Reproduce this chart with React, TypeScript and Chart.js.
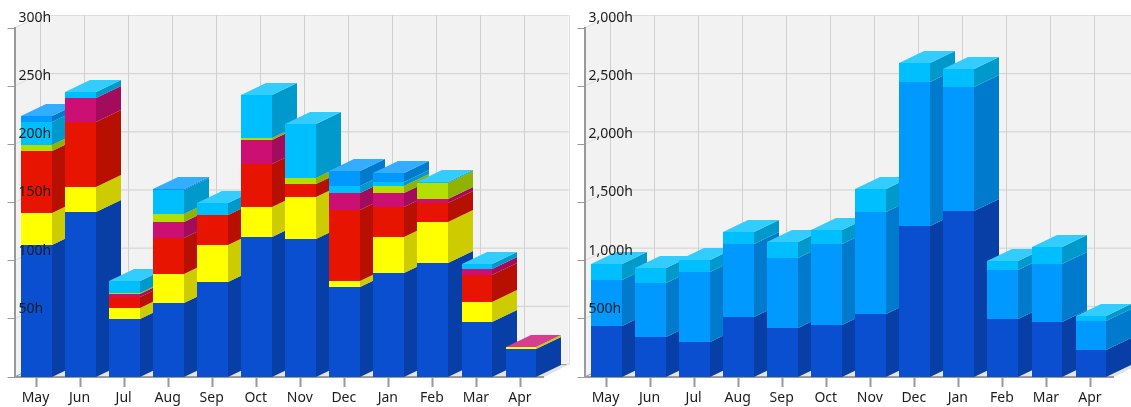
import { useEffect, useRef } from "react";
import { Chart, registerables } from "chart.js";

Chart.register(...registerables);

const months = ["May", "Jun", "Jul", "Aug", "Sep", "Oct", "Nov", "Dec", "Jan", "Feb", "Mar", "Apr"];

// left chart
const leftBlue = [113.5, 142, 49.6, 63.3, 81.4, 120, 118.4, 77.4, 89.4, 98.3, 47.3, 23.8];
const leftYellow = [27.8, 21.5, 9.7, 25.5, 32, 25.8, 36.6, 4.9, 31.2, 34.7, 17.5, 1.7];
const leftRed = [53.1, 55.7, 9.7, 30.4, 25.8, 37.5, 11, 61.3, 25.3, 16.8, 22.7, 0];
const leftMagenta = [0, 20.6, 2.5, 13.8, 0, 20.6, 0, 14.9, 12.3, 2.9, 5.7, 0.3];
const leftLime = [4.9, 0, 1, 7.4, 0, 1.2, 5.4, 0, 6, 14.3, 0, 0];
const leftCyan = [20.3, 5.5, 9.7, 20, 10.6, 37.2, 46.4, 6, 3.7, 0.5, 4.3, 0];
const leftAzure = [4.6, 0, 0, 1.3, 0, 0, 0, 12.9, 7.7, 0, 0, 0];

// right chart
const rightBlue = [438, 344, 301, 513, 424, 450, 542, 1300, 1424, 496, 475, 230];
const rightAzure = [393, 462, 602, 628, 602, 691, 874, 1238, 1069, 424, 493, 249];
const rightCyan = [140, 134, 103, 103, 132, 123, 203, 161, 157, 80, 146, 48];

const BLUE = "#0a4fcf";
const YELLOW = "#ffff00";
const RED = "#e61400";
const MAGENTA = "#cc0f73";
const LIME = "#b3e000";
const CYAN = "#00bfff";
const AZURE = "#0099ff";

const FONT = "'Noto Sans'";
const TEXT = "#1c1c1c";
const AXIS = "#999999";
const GRID = "#d0d0d0";

const BAR_DX = 25;
const BAR_DY = 12;
const WALL_DX = 25.5;
const WALL_DY = 13;

function rgb(hex: string) {
  return [1, 3, 5].map((i) => parseInt(hex.slice(i, i + 2), 16));
}
function darken(hex: string) {
  const [r, g, b] = rgb(hex);
  return `rgb(${r * 0.8},${g * 0.8},${b * 0.8})`;
}
function lighten(hex: string) {
  const [r, g, b] = rgb(hex);
  return `rgb(${r * 0.8 + 51},${g * 0.8 + 51},${b * 0.8 + 51})`;
}

function poly(ctx: CanvasRenderingContext2D, pts: number[][], fill: string) {
  ctx.beginPath();
  pts.forEach(([x, y], i) => (i ? ctx.lineTo(x, y) : ctx.moveTo(x, y)));
  ctx.closePath();
  ctx.fillStyle = fill;
  ctx.fill();
}
function seg(ctx: CanvasRenderingContext2D, x1: number, y1: number, x2: number, y2: number, color: string, w = 1) {
  ctx.beginPath();
  ctx.moveTo(x1, y1);
  ctx.lineTo(x2, y2);
  ctx.strokeStyle = color;
  ctx.lineWidth = w;
  ctx.stroke();
}

const depth3d = {
  id: "depth3d",
  beforeDraw(chart: any) {
    const { ctx, chartArea: a, scales } = chart;
    const { left: l, right: r, top: t, bottom: b } = a;
    const dx = WALL_DX;
    const dy = WALL_DY;
    ctx.save();
    // back and side wall
    poly(ctx, [[l, t], [l + dx, t - dy], [l + dx, b - dy], [l, b]], "#f2f2f2");
    poly(ctx, [[l + dx, t - dy], [r + dx, t - dy], [r + dx, b - dy], [l + dx, b - dy]], "#f2f2f2");
    // floor
    poly(ctx, [[l, b], [r, b], [r + dx, b - dy], [l + dx, b - dy]], "#e4e4e4");
    // horizontal grid on the back wall, running down the side wall
    scales.y.ticks.forEach((tick: any) => {
      const y = scales.y.getPixelForValue(tick.value);
      if (tick.value !== 0) {
        seg(ctx, l + dx, y - dy + 0.5, r + dx, y - dy + 0.5, tick.value === scales.y.max ? "#dedede" : GRID);
        seg(ctx, l, y, l + dx, y - dy + 0.5, "#dddddd");
      }
    });
    // vertical grid on the back wall
    const step = scales.x.getPixelForValue(1) - scales.x.getPixelForValue(0);
    for (let i = 0; i < months.length; i++) {
      const x = Math.round(scales.x.getPixelForValue(i) - step / 2 + dx);
      seg(ctx, x + 0.5, t - dy, x + 0.5, b - dy, GRID);
    }
    seg(ctx, Math.round(r + dx) + 0.5, t - dy, Math.round(r + dx) + 0.5, b - dy, "#dedede");
    seg(ctx, l, b, l + dx, b - dy + 0.5, AXIS);
    seg(ctx, l + dx, b - dy + 0.5, r + dx, b - dy + 0.5, AXIS);
    seg(ctx, r, b, r + dx, b - dy, "#dedede");
    ctx.restore();
  },
  beforeDatasetsDraw(chart: any) {
    const { ctx } = chart;
    const metas = chart.data.datasets.map((_: any, i: number) => chart.getDatasetMeta(i));
    ctx.save();
    months.forEach((_, i) => {
      let last = -1;
      chart.data.datasets.forEach((ds: any, d: number) => {
        if (ds.data[i] > 0) last = d;
      });
      chart.data.datasets.forEach((ds: any, d: number) => {
        if (!(ds.data[i] > 0)) return;
        const el = metas[d].data[i];
        const x1 = Math.round(el.x - el.width / 2);
        const x2 = Math.round(el.x + el.width / 2);
        const yt = Math.round(el.y);
        const yb = Math.round(el.base);
        const color = ds.backgroundColor;
        poly(ctx, [[x2, yt], [x2 + BAR_DX, yt - BAR_DY], [x2 + BAR_DX, yb - BAR_DY], [x2, yb]], darken(color));
        if (d === last) {
          poly(ctx, [[x1, yt], [x2, yt], [x2 + BAR_DX, yt - BAR_DY], [x1 + BAR_DX, yt - BAR_DY]], lighten(color));
        }
        ctx.fillStyle = color;
        ctx.fillRect(x1, yt, x2 - x1, yb - yt);
      });
    });
    ctx.restore();
    return false;
  },
};

function makeChart(canvas: HTMLCanvasElement, sets: { data: number[]; color: string }[], max: number, step: number) {
  return new Chart(canvas, {
    type: "bar",
    data: {
      labels: months,
      datasets: sets.map((s) => ({
        data: s.data,
        backgroundColor: s.color,
        barPercentage: 0.7,
        categoryPercentage: 1,
      })),
    },
    plugins: [depth3d],
    options: {
      animation: false,
      responsive: false,
      layout: { padding: { top: 28, right: 27, left: 0, bottom: 0 } },
      plugins: { legend: { display: false }, tooltip: { enabled: false } },
      scales: {
        x: {
          stacked: true,
          afterFit: (s: any) => {
            s.height = 30;
          },
          grid: { offset: false, drawOnChartArea: false, color: AXIS, tickLength: 10, tickWidth: 2 },
          border: { color: AXIS, width: 2 },
          ticks: { color: TEXT, font: { family: FONT, size: 14 }, padding: 3, labelOffset: -1, maxRotation: 0, autoSkip: false },
        },
        y: {
          stacked: true,
          min: 0,
          max,
          afterFit: (s: any) => {
            s.width = 14.5;
          },
          grid: { drawOnChartArea: false, color: AXIS, tickLength: 7, tickWidth: 1 },
          border: { color: AXIS, width: 2 },
          ticks: {
            stepSize: step,
            mirror: true,
            padding: 4,
            labelOffset: -10,
            z: 1,
            color: TEXT,
            font: { family: FONT, size: 14 },
            callback: (v: any) => (v === 0 ? "" : `${Number(v).toLocaleString("en-US")}h`),
          },
        },
      },
    },
  } as any);
}

export default function App() {
  const leftRef = useRef<HTMLCanvasElement>(null);
  const rightRef = useRef<HTMLCanvasElement>(null);
  useEffect(() => {
    const a = makeChart(
      leftRef.current!,
      [
        { data: leftBlue, color: BLUE },
        { data: leftYellow, color: YELLOW },
        { data: leftRed, color: RED },
        { data: leftMagenta, color: MAGENTA },
        { data: leftLime, color: LIME },
        { data: leftCyan, color: CYAN },
        { data: leftAzure, color: AZURE },
      ],
      300,
      50
    );
    const b = makeChart(
      rightRef.current!,
      [
        { data: rightBlue, color: BLUE },
        { data: rightAzure, color: AZURE },
        { data: rightCyan, color: CYAN },
      ],
      3000,
      500
    );
    return () => {
      a.destroy();
      b.destroy();
    };
  }, []);
  const soft = { position: "absolute", top: 0, filter: "blur(0.45px)" } as const;
  return (
    <div style={{ position: "fixed", left: 0, top: 0, width: 1131, height: 407, overflow: "hidden", background: "#fff" }}>
      <canvas ref={leftRef} width={570} height={407} style={{ ...soft, left: 0 }} />
      <canvas ref={rightRef} width={570} height={407} style={{ ...soft, left: 570 }} />
    </div>
  );
}
